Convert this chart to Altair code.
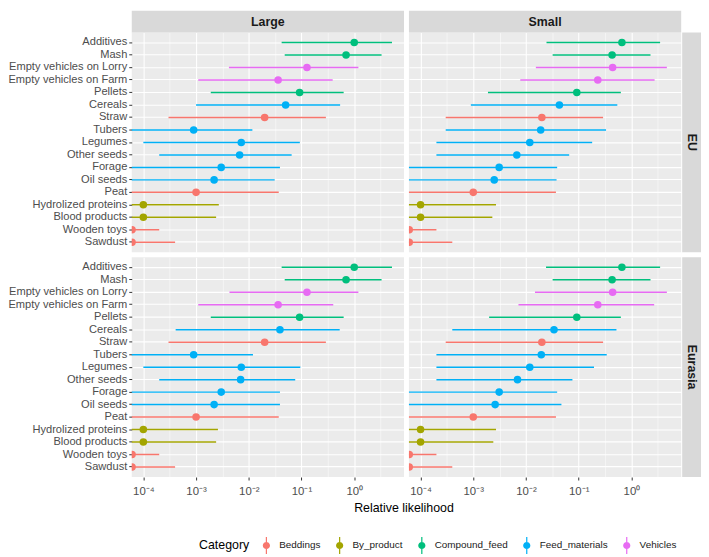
import math
import altair as alt
import pandas as pd

ITEMS = ["Additives", "Mash", "Empty vehicles on Lorry", "Empty vehicles on Farm", "Pellets",
         "Cereals", "Straw", "Tubers", "Legumes", "Other seeds", "Forage", "Oil seeds", "Peat",
         "Hydrolized proteins", "Blood products", "Wooden toys", "Sawdust"]
ITEM_CATEGORY = ["Compound_feed", "Compound_feed", "Vehicles", "Vehicles", "Compound_feed",
                 "Feed_materials", "Beddings", "Feed_materials", "Feed_materials", "Feed_materials",
                 "Feed_materials", "Feed_materials", "Beddings", "By_product", "By_product",
                 "Beddings", "Beddings"]
CATEGORIES = ["Beddings", "By_product", "Compound_feed", "Feed_materials", "Vehicles"]
COLORS = ["#F8766D", "#A3A500", "#00BF7D", "#00B0F6", "#E76BF3"]

# EU / Large
EU_LARGE_EST = [1.0, 0.70, 0.127, 0.036, 0.092, 0.050, 0.020, 0.0009, 0.0072, 0.0067, 0.0030, 0.0022, 0.0010, 0.0001, 0.0001, 6.1e-5, 6.1e-5]
EU_LARGE_LO = [0.042, 0.048, 0.0042, 0.0011, 0.0019, 0.0010, 0.0003, 5e-5, 0.0001, 0.0002, 5e-5, 5e-5, 5e-5, 5e-5, 5e-5, 5e-5, 5e-5]
EU_LARGE_HI = [5.2, 3.3, 1.2, 0.39, 0.63, 0.54, 0.29, 0.0117, 0.093, 0.065, 0.039, 0.031, 0.037, 0.0027, 0.0024, 0.0002, 0.0004]
# EU / Small
EU_SMALL_EST = [0.66, 0.43, 0.44, 0.23, 0.092, 0.043, 0.020, 0.019, 0.0118, 0.0067, 0.0031, 0.0025, 0.0010, 0.0001, 0.0001, 6.1e-5, 6.1e-5]
EU_SMALL_LO = [0.0245, 0.032, 0.0154, 0.0078, 0.0019, 0.0009, 0.0003, 0.0003, 0.0002, 0.0002, 5e-5, 5e-5, 5e-5, 5e-5, 5e-5, 5e-5, 5e-5]
EU_SMALL_HI = [3.5, 2.3, 4.7, 2.75, 0.63, 0.54, 0.29, 0.33, 0.18, 0.066, 0.039, 0.038, 0.037, 0.0027, 0.0023, 0.0002, 0.0004]
# Eurasia / Large
EA_LARGE_EST = [1.0, 0.70, 0.127, 0.036, 0.092, 0.039, 0.020, 0.0009, 0.0072, 0.0070, 0.0030, 0.0022, 0.0010, 0.0001, 0.0001, 6.1e-5, 6.1e-5]
EA_LARGE_LO = [0.042, 0.048, 0.0043, 0.0011, 0.0019, 0.00041, 0.0003, 5e-5, 0.0001, 0.0002, 5e-5, 5e-5, 5e-5, 5e-5, 5e-5, 5e-5, 5e-5]
EA_LARGE_HI = [5.2, 3.3, 1.2, 0.40, 0.63, 0.53, 0.29, 0.012, 0.095, 0.076, 0.039, 0.039, 0.037, 0.0026, 0.0024, 0.0002, 0.0004]
# Eurasia / Small
EA_SMALL_EST = [0.66, 0.43, 0.44, 0.23, 0.092, 0.034, 0.020, 0.0195, 0.0118, 0.0069, 0.0031, 0.0026, 0.0010, 0.0001, 0.0001, 6.1e-5, 6.1e-5]
EA_SMALL_LO = [0.024, 0.032, 0.0148, 0.0072, 0.002, 0.0004, 0.0003, 0.0002, 0.0002, 0.0002, 5e-5, 5e-5, 5e-5, 5e-5, 5e-5, 5e-5, 5e-5]
EA_SMALL_HI = [3.5, 2.3, 4.7, 2.7, 0.63, 0.52, 0.29, 0.34, 0.195, 0.076, 0.039, 0.047, 0.037, 0.0027, 0.0024, 0.0002, 0.0004]

X_MAJOR = [1e-4, 1e-3, 1e-2, 1e-1, 1.0]
X_LABELS = ["10⁻⁴", "10⁻³", "10⁻²", "10⁻¹", "10⁰"]
X_DOMAIN = [10 ** -4.22, 10 ** 0.944]

W, H = 275, 222
STRIP = 22

rows = []
for region, size, est, lo, hi in [
    ("EU", "Large", EU_LARGE_EST, EU_LARGE_LO, EU_LARGE_HI),
    ("EU", "Small", EU_SMALL_EST, EU_SMALL_LO, EU_SMALL_HI),
    ("Eurasia", "Large", EA_LARGE_EST, EA_LARGE_LO, EA_LARGE_HI),
    ("Eurasia", "Small", EA_SMALL_EST, EA_SMALL_LO, EA_SMALL_HI),
]:
    for i, item in enumerate(ITEMS):
        rows.append(dict(region=region, size=size, item=item, category=ITEM_CATEGORY[i],
                         est=est[i], lo=lo[i], hi=hi[i]))
df = pd.DataFrame(rows)

# gridline positions: majors plus half-decade minors
x_grid = []
for v in X_MAJOR:
    x_grid.append(v)
    x_grid.append(v * 10 ** 0.5)

MAJOR_TEST = "abs(log(datum.value)/LN10 - round(log(datum.value)/LN10)) < 0.01"
label_expr = "".join(
    f"abs(log(datum.value)/LN10 - ({int(round(math.log10(v)))})) < 0.01 ? '{lab}' : "
    for v, lab in zip(X_MAJOR, X_LABELS)
) + "''"

LEGEND_PATH = ("M-0.07,-1 L0.07,-1 L0.07,1 L-0.07,1 Z "
               "M0.42,0 A0.42,0.42 0 1,1 -0.42,0 A0.42,0.42 0 1,1 0.42,0 Z")

color_enc = alt.Color(
    "category:N",
    scale=alt.Scale(domain=CATEGORIES, range=COLORS),
    legend=alt.Legend(
        title="Category", orient="none", legendX=68, legendY=509,
        direction="horizontal", titleOrient="left",
        symbolType=LEGEND_PATH, symbolSize=300, symbolOpacity=1, symbolStrokeWidth=0,
        labelFontSize=10, labelColor="#1A1A1A", titleFontSize=12.5, titleFontWeight="normal",
        titleColor="#000000", columnPadding=10, titlePadding=8, labelOffset=4,
    ),
)

xscale = alt.Scale(type="log", domain=X_DOMAIN, nice=False)
yscale = alt.Scale(padding=0.6)


def panel(region, size, top, left, bottom, right):
    d = df[(df["region"] == region) & (df["size"] == size)]
    x_axis = alt.Axis(
        values=x_grid, grid=True, gridColor="white",
        gridWidth={"condition": {"test": MAJOR_TEST, "value": 1.1}, "value": 0.5},
        labels=bottom, labelExpr=label_expr, labelOverlap=False, labelFontSize=11.5,
        labelColor="#4D4D4D", labelPadding=6,
        ticks=bottom, tickSize=3, tickColor="#333333",
        tickOpacity={"condition": {"test": MAJOR_TEST, "value": 1}, "value": 0},
        domain=False, title=None,
    )
    y_axis = alt.Axis(
        grid=True, gridColor="white", gridWidth=1.1, domain=False,
        labels=left, ticks=left, tickSize=3, tickColor="#333333",
        labelFontSize=11.2, labelColor="#4D4D4D", labelPadding=2, title=None,
    )
    base = alt.Chart(d)
    rule = base.mark_rule(strokeWidth=1.5, clip=True).encode(
        x=alt.X("lo:Q", scale=xscale, axis=x_axis, title=None),
        x2="hi:Q",
        y=alt.Y("item:N", sort=ITEMS, scale=yscale, axis=y_axis, title=None),
        color=color_enc,
    )
    pts = base.mark_circle(size=58, opacity=1, clip=True).encode(
        x=alt.X("est:Q", scale=xscale, axis=x_axis, title=None),
        y=alt.Y("item:N", sort=ITEMS, scale=yscale, axis=y_axis, title=None),
        color=color_enc,
    )
    layers = [rule, pts]
    if top:
        sd = alt.Chart(pd.DataFrame({"t": [size]}))
        layers.append(sd.mark_rect(color="#D9D9D9", clip=False).encode(
            x=alt.value(0), x2=alt.value(W), y=alt.value(-STRIP), y2=alt.value(0)))
        layers.append(sd.mark_text(fontSize=12.5, fontWeight="bold", color="#1A1A1A", clip=False).encode(
            text="t:N", x=alt.value(W / 2), y=alt.value(-STRIP / 2)))
    if right:
        rd = alt.Chart(pd.DataFrame({"t": [region]}))
        layers.append(rd.mark_rect(color="#D9D9D9", clip=False).encode(
            x=alt.value(W + 1), x2=alt.value(W + 20), y=alt.value(0), y2=alt.value(H)))
        layers.append(rd.mark_text(fontSize=12.5, fontWeight="bold", color="#1A1A1A", angle=90, clip=False).encode(
            text="t:N", x=alt.value(W + 10.5), y=alt.value(H / 2)))
    return alt.layer(*layers).properties(width=W, height=H)


row1 = alt.hconcat(
    panel("EU", "Large", True, True, False, False),
    panel("EU", "Small", True, False, False, True),
    spacing=5,
)
row2 = alt.hconcat(
    panel("Eurasia", "Large", False, True, True, False),
    panel("Eurasia", "Small", False, False, True, True),
    spacing=5,
    title=alt.TitleParams("Relative likelihood", orient="bottom", anchor="middle", dx=50,
                          fontSize=12.5, fontWeight="normal", color="#000000", offset=5),
)

chart = alt.vconcat(row1, row2, spacing=5).properties(padding=0).configure(
    font="Liberation Sans"
).configure_view(stroke=None, fill="#EBEBEB")

chart.save("out.html", embed_options={"renderer": "svg", "actions": False})
